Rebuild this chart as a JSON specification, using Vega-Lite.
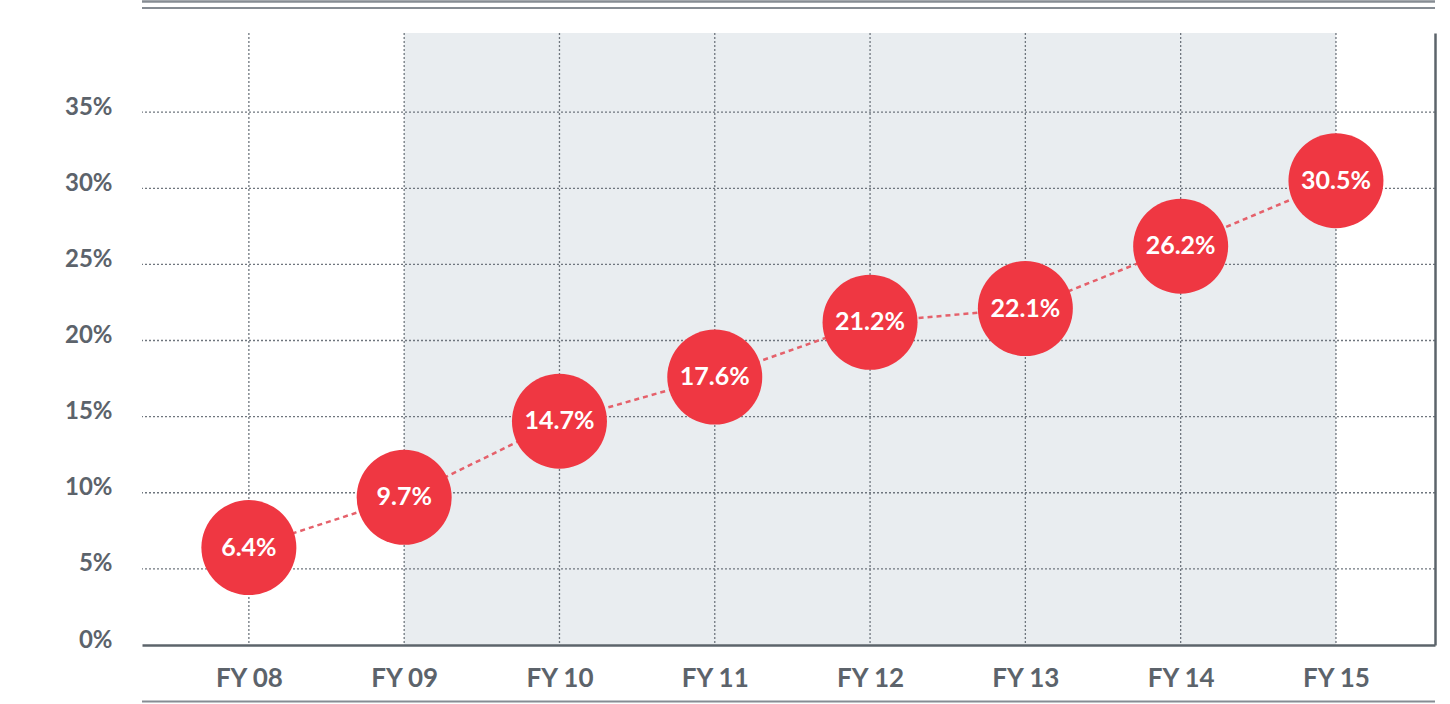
{
  "$schema": "https://vega.github.io/schema/vega-lite/v6.json",
  "width": 1293,
  "height": 612,
  "autosize": "none",
  "padding": {"left": 142, "top": 33, "right": 15, "bottom": 59},
  "background": "white",
  "config": {"view": {"stroke": null}, "font": "Lato"},
  "data": {
    "values": [
      {"year": "FY 08", "share": 0.064},
      {"year": "FY 09", "share": 0.097},
      {"year": "FY 10", "share": 0.147},
      {"year": "FY 11", "share": 0.176},
      {"year": "FY 12", "share": 0.212},
      {"year": "FY 13", "share": 0.221},
      {"year": "FY 14", "share": 0.262},
      {"year": "FY 15", "share": 0.305}
    ]
  },
  "layer": [
    {
      "layer": [
        {
          "data": {"values": [{"from": "FY 09", "to": "FY 15"}]},
          "mark": {"type": "rect", "color": "#e9edf0"},
          "encoding": {
            "x": {"field": "from", "type": "ordinal"},
            "x2": {"field": "to"},
            "y": {"datum": 0, "type": "quantitative"},
            "y2": {"datum": 0.402}
          }
        },
        {
          "data": {"values": [{"t": 0.05}, {"t": 0.10}, {"t": 0.15}, {"t": 0.20}, {"t": 0.25}, {"t": 0.30}, {"t": 0.35}]},
          "mark": {"type": "rule", "color": "#6f767e", "strokeWidth": 1.3, "strokeDash": [2, 2]},
          "encoding": {
            "y": {
              "field": "t",
              "type": "quantitative",
              "title": null,
              "scale": {"domain": [0, 0.402], "nice": false, "zero": true},
              "axis": {
                "values": [0, 0.05, 0.1, 0.15, 0.2, 0.25, 0.3, 0.35],
                "format": ".0%",
                "grid": false,
                "ticks": false,
                "domain": false,
                "labelFont": "Lato",
                "labelFontWeight": "bold",
                "labelFontSize": 24,
                "labelColor": "#5c636b",
                "labelPadding": 30,
                "labelBaseline": "alphabetic",
                "labelOffset": 2
              }
            }
          }
        },
        {
          "mark": {"type": "rule", "color": "#6f767e", "strokeWidth": 1.3, "strokeDash": [2, 2]},
          "encoding": {
            "x": {
              "field": "year",
              "type": "ordinal",
              "title": null,
              "sort": ["FY 08", "FY 09", "FY 10", "FY 11", "FY 12", "FY 13", "FY 14", "FY 15"],
              "scale": {"type": "point", "padding": 0.663, "align": 0.519},
              "axis": {
                "labelAngle": 0,
                "labelAlign": "center",
                "labelBaseline": "top",
                "grid": false,
                "ticks": false,
                "domain": true,
                "domainColor": "#5c646b",
                "domainWidth": 2.5,
                "labelFont": "Lato",
                "labelFontWeight": "bold",
                "labelFontSize": 26,
                "labelColor": "#5c636b",
                "labelPadding": 20,
                "zindex": 1
              }
            }
          }
        },
        {
          "mark": {"type": "line", "color": "#e5616b", "strokeWidth": 2.5, "strokeDash": [5, 4]},
          "encoding": {
            "x": {"field": "year", "type": "ordinal"},
            "y": {"field": "share", "type": "quantitative", "title": null}
          }
        },
        {
          "mark": {"type": "circle", "color": "#ef3742", "opacity": 1, "size": 9025},
          "encoding": {
            "x": {"field": "year", "type": "ordinal"},
            "y": {"field": "share", "type": "quantitative", "title": null}
          }
        },
        {
          "mark": {"type": "text", "color": "white", "font": "Lato", "fontWeight": "bold", "fontSize": 25, "baseline": "middle", "align": "center"},
          "encoding": {
            "x": {"field": "year", "type": "ordinal"},
            "y": {"field": "share", "type": "quantitative", "title": null},
            "text": {"field": "share", "type": "quantitative", "format": ".1%"}
          }
        },
        {
          "data": {"values": [{"pos": 0.4227, "w": 2.5}, {"pos": 0.4184, "w": 2}, {"pos": -0.0371, "w": 2}]},
          "mark": {"type": "rule", "color": "#868c93"},
          "encoding": {
            "y": {"field": "pos", "type": "quantitative", "title": null},
            "strokeWidth": {"field": "w", "type": "quantitative", "scale": null}
          }
        }
      ]
    },
    {
      "mark": {"type": "point", "opacity": 0},
      "encoding": {
        "y": {
          "field": "share",
          "type": "quantitative",
          "title": null,
          "axis": {
            "orient": "right",
            "labels": false,
            "ticks": false,
            "grid": false,
            "domain": true,
            "domainColor": "#5c646b",
            "domainWidth": 2.5,
            "zindex": 1
          }
        }
      }
    }
  ],
  "resolve": {"axis": {"y": "independent"}}
}
